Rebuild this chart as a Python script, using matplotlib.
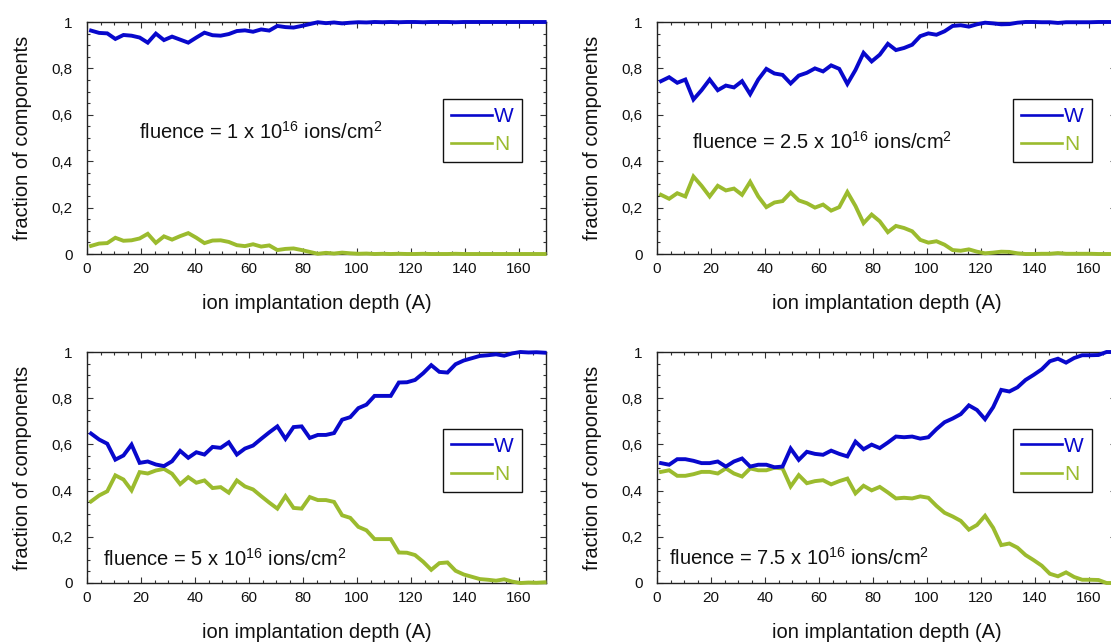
import matplotlib
matplotlib.use('Agg')
import matplotlib.pyplot as plt
from matplotlib.ticker import MultipleLocator, FixedLocator, FixedFormatter

plt.rcParams['font.family'] = ['Liberation Sans', 'DejaVu Sans']
plt.rcParams['mathtext.fontset'] = 'custom'
plt.rcParams['mathtext.rm'] = 'Liberation Sans'
plt.rcParams['mathtext.it'] = 'Liberation Sans:italic'
plt.rcParams['mathtext.bf'] = 'Liberation Sans:bold'

# ---------------- data ----------------
depth = [1.5, 4.5, 7.5, 10.5, 13.5, 16.5, 19.5, 22.5, 25.5, 28.5,
         31.5, 34.5, 37.5, 40.5, 43.5, 46.5, 49.5, 52.5, 55.5, 58.5,
         61.5, 64.5, 67.5, 70.5, 73.5, 76.5, 79.5, 82.5, 85.5, 88.5,
         91.5, 94.5, 97.5, 100.5, 103.5, 106.5, 109.5, 112.5, 115.5, 118.5,
         121.5, 124.5, 127.5, 130.5, 133.5, 136.5, 139.5, 142.5, 145.5, 148.5,
         151.5, 154.5, 157.5, 160.5, 163.5, 166.5, 169.5]

w_f1 = [0.963, 0.953, 0.951, 0.927, 0.944, 0.941, 0.933, 0.911, 0.950, 0.922,
        0.937, 0.924, 0.911, 0.933, 0.954, 0.943, 0.941, 0.948, 0.961, 0.964,
        0.958, 0.968, 0.963, 0.983, 0.978, 0.976, 0.983, 0.991, 0.999, 0.995,
        0.998, 0.994, 0.997, 0.999, 0.998, 1.000, 0.999, 1.000, 0.999, 1.000,
        1.000, 0.999, 1.000, 1.000, 1.000, 0.999, 1.000, 1.000, 1.000, 1.000,
        1.000, 1.000, 1.000, 1.000, 1.000, 1.000, 1.000]
n_f1 = [0.035, 0.045, 0.047, 0.070, 0.057, 0.059, 0.067, 0.087, 0.048, 0.076,
        0.062, 0.077, 0.090, 0.070, 0.047, 0.058, 0.059, 0.052, 0.038, 0.034,
        0.042, 0.032, 0.037, 0.017, 0.022, 0.024, 0.017, 0.009, 0.001, 0.005,
        0.002, 0.006, 0.003, 0.001, 0.002, 0.000, 0.001, 0.000, 0.001, 0.000,
        0.000, 0.001, 0.000, 0.000, 0.000, 0.001, 0.000, 0.000, 0.000, 0.000,
        0.000, 0.000, 0.000, 0.000, 0.000, 0.000, 0.000]

w_f25 = [0.745, 0.762, 0.738, 0.752, 0.666, 0.706, 0.752, 0.706, 0.726, 0.718,
         0.745, 0.689, 0.752, 0.798, 0.778, 0.772, 0.735, 0.769, 0.781, 0.800,
         0.787, 0.813, 0.798, 0.733, 0.793, 0.867, 0.830, 0.859, 0.906, 0.879,
         0.888, 0.902, 0.939, 0.951, 0.945, 0.960, 0.983, 0.986, 0.980, 0.990,
         0.997, 0.994, 0.990, 0.991, 0.997, 1.000, 1.000, 0.999, 0.999, 0.996,
         0.999, 0.999, 0.999, 0.999, 1.000, 1.000, 1.000]
n_f25 = [0.255, 0.238, 0.262, 0.248, 0.334, 0.294, 0.248, 0.294, 0.274, 0.282,
         0.255, 0.311, 0.248, 0.202, 0.222, 0.228, 0.265, 0.231, 0.219, 0.200,
         0.213, 0.187, 0.202, 0.267, 0.207, 0.133, 0.170, 0.141, 0.094, 0.121,
         0.112, 0.098, 0.061, 0.049, 0.055, 0.040, 0.017, 0.014, 0.020, 0.010,
         0.003, 0.006, 0.010, 0.009, 0.003, 0.000, 0.000, 0.001, 0.001, 0.004,
         0.001, 0.001, 0.001, 0.001, 0.000, 0.000, 0.000]

w_f5 = [0.647, 0.621, 0.603, 0.534, 0.552, 0.599, 0.520, 0.526, 0.513, 0.506,
        0.527, 0.572, 0.542, 0.566, 0.556, 0.589, 0.585, 0.609, 0.556, 0.582,
        0.595, 0.624, 0.652, 0.678, 0.624, 0.675, 0.678, 0.628, 0.641, 0.641,
        0.649, 0.707, 0.718, 0.757, 0.772, 0.810, 0.810, 0.810, 0.868, 0.869,
        0.879, 0.908, 0.943, 0.914, 0.911, 0.947, 0.963, 0.973, 0.983, 0.986,
        0.990, 0.984, 0.994, 1.000, 0.998, 0.999, 0.997]
n_f5 = [0.353, 0.379, 0.397, 0.466, 0.448, 0.401, 0.480, 0.474, 0.487, 0.494,
        0.473, 0.428, 0.458, 0.434, 0.444, 0.411, 0.415, 0.391, 0.444, 0.418,
        0.405, 0.376, 0.348, 0.322, 0.376, 0.325, 0.322, 0.372, 0.359, 0.359,
        0.351, 0.293, 0.282, 0.243, 0.228, 0.190, 0.190, 0.190, 0.132, 0.131,
        0.121, 0.092, 0.057, 0.086, 0.089, 0.053, 0.037, 0.027, 0.017, 0.014,
        0.010, 0.016, 0.006, 0.000, 0.002, 0.001, 0.003]

w_f75 = [0.519, 0.512, 0.536, 0.536, 0.529, 0.519, 0.519, 0.526, 0.504, 0.526,
         0.539, 0.504, 0.512, 0.512, 0.501, 0.504, 0.582, 0.533, 0.568, 0.559,
         0.555, 0.573, 0.559, 0.548, 0.612, 0.579, 0.599, 0.584, 0.608, 0.634,
         0.631, 0.634, 0.625, 0.631, 0.666, 0.696, 0.712, 0.731, 0.769, 0.749,
         0.709, 0.761, 0.836, 0.829, 0.847, 0.879, 0.901, 0.925, 0.960, 0.971,
         0.954, 0.974, 0.986, 0.986, 0.987, 1.000, 1.000]
n_f75 = [0.481, 0.488, 0.464, 0.464, 0.471, 0.481, 0.481, 0.474, 0.496, 0.474,
         0.461, 0.496, 0.488, 0.488, 0.499, 0.496, 0.418, 0.467, 0.432, 0.441,
         0.445, 0.427, 0.441, 0.452, 0.388, 0.421, 0.401, 0.416, 0.392, 0.366,
         0.369, 0.366, 0.375, 0.369, 0.334, 0.304, 0.288, 0.269, 0.231, 0.251,
         0.291, 0.239, 0.164, 0.171, 0.153, 0.121, 0.099, 0.075, 0.040, 0.029,
         0.046, 0.026, 0.014, 0.014, 0.013, 0.000, 0.000]

fluence_labels = [r"fluence = 1 x 10$^{16}$ ions/cm$^{2}$",
                  r"fluence = 2.5 x 10$^{16}$ ions/cm$^{2}$",
                  r"fluence = 5 x 10$^{16}$ ions/cm$^{2}$",
                  r"fluence = 7.5 x 10$^{16}$ ions/cm$^{2}$"]
series_names = ["W", "N"]
y_ticks = [0, 0.2, 0.4, 0.6, 0.8, 1.0]
y_ticklabels = ["0", "0,2", "0,4", "0,6", "0,8", "1"]
x_ticks = [0, 20, 40, 60, 80, 100, 120, 140, 160]
x_label = "ion implantation depth (A)"
y_label = "fraction of components"

# ---------------- layout ----------------
FW, FH = 1111, 644
BLUE = '#0808CC'
GREEN = '#9BBB2E'


def rect(l, r, t, b):
    return [l / FW, 1 - b / FH, (r - l) / FW, (b - t) / FH]


panels = [
    (rect(87, 546, 22, 254), w_f1, n_f1, fluence_labels[0], (0.113, 0.526)),
    (rect(657, 1116, 22, 254), w_f25, n_f25, fluence_labels[1], (0.076, 0.483)),
    (rect(87, 546, 352, 583), w_f5, n_f5, fluence_labels[2], (0.034, 0.106)),
    (rect(657, 1116, 352, 583), w_f75, n_f75, fluence_labels[3], (0.026, 0.107)),
]

fig = plt.figure(figsize=(FW / 100, FH / 100), dpi=100)

for pos, wv, nv, lab, tpos in panels:
    ax = fig.add_axes(pos)
    lw_line, = ax.plot(depth, wv, color=BLUE, lw=2.8, solid_joinstyle='miter',
                       clip_on=False, zorder=4)
    ln_line, = ax.plot(depth, nv, color=GREEN, lw=2.8, solid_joinstyle='miter',
                       clip_on=False, zorder=3)
    ax.set_xlim(0, 170)
    ax.set_ylim(0, 1)
    ax.xaxis.set_major_locator(FixedLocator(x_ticks))
    ax.xaxis.set_minor_locator(MultipleLocator(5))
    ax.yaxis.set_major_locator(FixedLocator(y_ticks))
    ax.yaxis.set_major_formatter(FixedFormatter(y_ticklabels))
    ax.yaxis.set_minor_locator(MultipleLocator(0.05))
    ax.tick_params(which='both', direction='in', top=True, right=True,
                   color='#333333', width=0.8, labelsize=11, labelcolor='#111111')
    ax.tick_params(which='major', length=4.5)
    ax.tick_params(which='minor', length=2.4)
    ax.tick_params(axis='y', pad=10.5)
    ax.tick_params(axis='x', pad=6)
    for sp in ax.spines.values():
        sp.set_linewidth(1.0)
        sp.set_color('#222222')
    ax.set_xlabel(x_label, fontsize=14.5, color='#111111')
    ax.set_ylabel(y_label, fontsize=14.5, color='#111111')
    ax.xaxis.set_label_coords(0.5, -0.172)
    ax.yaxis.set_label_coords(-0.12, 0.5)
    ax.text(tpos[0], tpos[1], lab, transform=ax.transAxes, fontsize=14.5,
            ha='left', va='center', color='#111111')
    leg = ax.legend([lw_line, ln_line], series_names, loc='upper left',
                    bbox_to_anchor=(0.776, 0.668), frameon=True, fancybox=False,
                    edgecolor='#111111', framealpha=1, fontsize=15,
                    handlelength=1.95, handletextpad=0.12, borderpad=0.38,
                    labelspacing=0.45, borderaxespad=0)
    leg.get_frame().set_linewidth(1.0)
    for t, ln in zip(leg.get_texts(), leg.get_lines()):
        t.set_color(ln.get_color())
        ln.set_linewidth(1.9)
    leg.set_zorder(5)

fig.savefig('out.png', dpi=100)
